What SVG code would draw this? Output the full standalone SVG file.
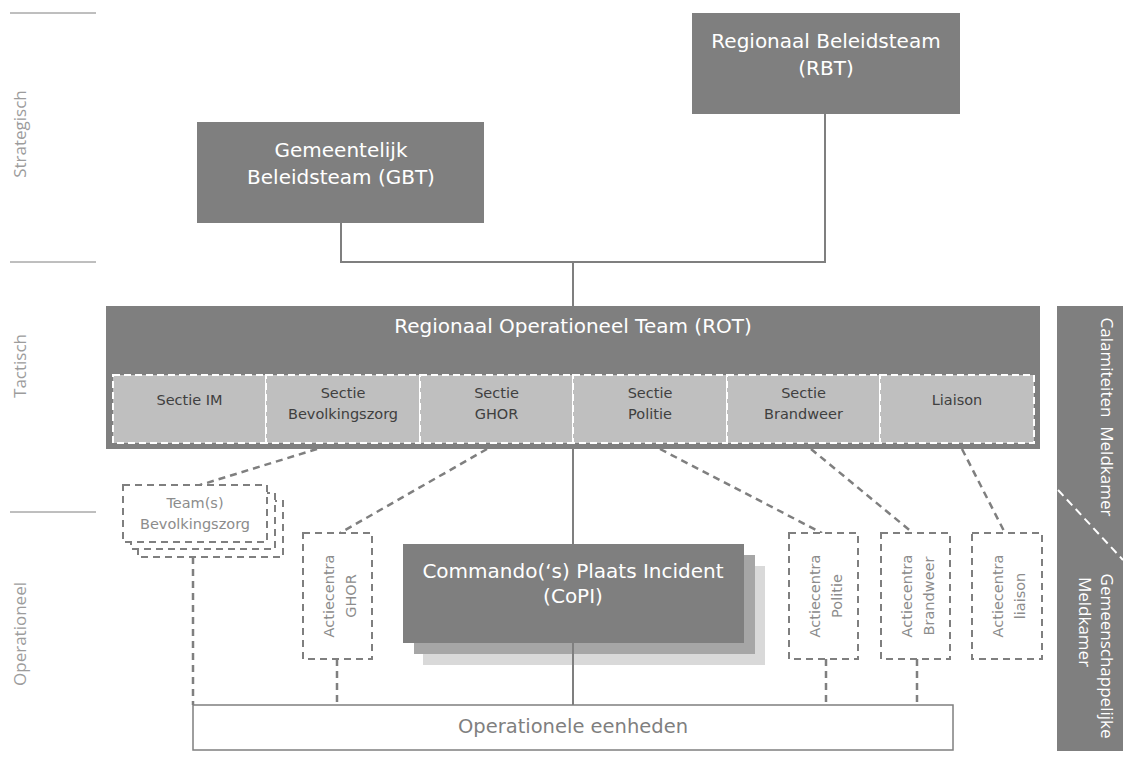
<svg xmlns="http://www.w3.org/2000/svg" width="1124" height="760" viewBox="0 0 1124 760">
<style>
.bg{fill:#ffffff}
.dark{fill:#7f7f7f}
.wt{fill:#ffffff;font-family:"DejaVu Sans",Verdana,sans-serif;font-size:20px;text-anchor:middle}
.sec{fill:#bfbfbf;stroke:#ffffff;stroke-width:2;stroke-dasharray:7 4}
.st{fill:#404040;font-family:"DejaVu Sans",Verdana,sans-serif;font-size:14.5px;text-anchor:middle}
.gt{fill:#8c8c8c;font-family:"DejaVu Sans",Verdana,sans-serif;font-size:14.5px;text-anchor:middle}
.dbox{fill:#ffffff;stroke:#7f7f7f;stroke-width:2;stroke-dasharray:7 5}
.line{stroke:#7f7f7f;stroke-width:2;fill:none}
.dash{stroke:#7f7f7f;stroke-width:2.5;fill:none;stroke-dasharray:7 5}
.lvl{fill:#9c9c9c;font-family:"Open Sans","Noto Sans",sans-serif;font-size:17px;text-anchor:middle}
.mk{fill:#ffffff;font-family:"Open Sans","Noto Sans",sans-serif;font-size:17px;text-anchor:middle;white-space:pre}
.sep{stroke:#7f7f7f;stroke-width:1}
</style>
<rect class="bg" x="0" y="0" width="1124" height="760"/>

<g id="levels">
<line class="sep" x1="10" y1="13" x2="96" y2="13"/>
<line class="sep" x1="10" y1="262" x2="96" y2="262"/>
<line class="sep" x1="10" y1="512" x2="96" y2="512"/>
<text class="lvl" transform="translate(26,134) rotate(-90)">Strategisch</text>
<text class="lvl" transform="translate(26,366) rotate(-90)">Tactisch</text>
<text class="lvl" transform="translate(26,634) rotate(-90)">Operationeel</text>
</g>

<g id="connectors">
<polyline class="line" points="341,223 341,262 825,262 825,114"/>
<line class="line" x1="573" y1="262" x2="573" y2="306"/>
<line class="line" x1="573" y1="449" x2="573" y2="705"/>
<line class="dash" x1="317" y1="449" x2="200" y2="485"/>
<line class="dash" x1="487" y1="449" x2="340" y2="533"/>
<line class="dash" x1="660" y1="449" x2="822" y2="533"/>
<line class="dash" x1="811" y1="449" x2="913" y2="533"/>
<line class="dash" x1="962" y1="449" x2="1005" y2="533"/>
<line class="dash" x1="193" y1="557" x2="193" y2="705"/>
<line class="dash" x1="337" y1="659" x2="337" y2="705"/>
<line class="dash" x1="826" y1="659" x2="826" y2="705"/>
<line class="dash" x1="917" y1="659" x2="917" y2="705"/>
</g>

<g id="rbt">
<rect class="dark" x="692" y="13" width="268" height="101"/>
<text class="wt" x="826" y="48">Regionaal Beleidsteam</text>
<text class="wt" x="826" y="75">(RBT)</text>
</g>

<g id="gbt">
<rect class="dark" x="197" y="122" width="287" height="101"/>
<text class="wt" x="341" y="157">Gemeentelijk</text>
<text class="wt" x="341" y="184">Beleidsteam (GBT)</text>
</g>

<g id="rot">
<rect class="dark" x="106" y="306" width="934" height="143"/>
<text class="wt" x="573" y="333">Regionaal Operationeel Team (ROT)</text>
</g>
<g id="sectie-im">
<rect class="sec" x="113" y="375" width="153" height="68"/>
<text class="st" x="189.5" y="405">Sectie IM</text>
</g>
<g id="sectie-bevolkingszorg">
<rect class="sec" x="266" y="375" width="154" height="68"/>
<text class="st" x="343" y="398">Sectie</text>
<text class="st" x="343" y="419">Bevolkingszorg</text>
</g>
<g id="sectie-ghor">
<rect class="sec" x="420" y="375" width="153" height="68"/>
<text class="st" x="496.5" y="398">Sectie</text>
<text class="st" x="496.5" y="419">GHOR</text>
</g>
<g id="sectie-politie">
<rect class="sec" x="573" y="375" width="154" height="68"/>
<text class="st" x="650" y="398">Sectie</text>
<text class="st" x="650" y="419">Politie</text>
</g>
<g id="sectie-brandweer">
<rect class="sec" x="727" y="375" width="153" height="68"/>
<text class="st" x="803.5" y="398">Sectie</text>
<text class="st" x="803.5" y="419">Brandweer</text>
</g>
<g id="liaison">
<rect class="sec" x="880" y="375" width="154" height="68"/>
<text class="st" x="957" y="405">Liaison</text>
</g>

<g id="teams-bevolkingszorg">
<rect class="dbox" x="138" y="501" width="145" height="56"/>
<rect class="dbox" x="131" y="493" width="144" height="56"/>
<rect class="dbox" x="123" y="485" width="144" height="57"/>
<text class="gt" x="195" y="508" font-size="15">Team(s)</text>
<text class="gt" x="195" y="529" font-size="15">Bevolkingszorg</text>
</g>

<g id="actiecentra-ghor">
<rect class="dbox" x="303" y="533" width="69" height="126"/>
<text class="gt" transform="translate(337.5,596) rotate(-90)" y="-4">Actiecentra</text>
<text class="gt" transform="translate(337.5,596) rotate(-90)" y="18">GHOR</text>
</g>
<g id="actiecentra-politie">
<rect class="dbox" x="789" y="533" width="69" height="126"/>
<text class="gt" transform="translate(823.5,596) rotate(-90)" y="-4">Actiecentra</text>
<text class="gt" transform="translate(823.5,596) rotate(-90)" y="18">Politie</text>
</g>
<g id="actiecentra-brandweer">
<rect class="dbox" x="881" y="533" width="69" height="126"/>
<text class="gt" transform="translate(915.5,596) rotate(-90)" y="-4">Actiecentra</text>
<text class="gt" transform="translate(915.5,596) rotate(-90)" y="18">Brandweer</text>
</g>
<g id="actiecentra-liaison">
<rect class="dbox" x="972" y="533" width="70" height="126"/>
<text class="gt" transform="translate(1007,596) rotate(-90)" y="-4">Actiecentra</text>
<text class="gt" transform="translate(1007,596) rotate(-90)" y="18">liaison</text>
</g>

<g id="copi">
<rect x="423" y="566" width="342" height="99" fill="#d9d9d9"/>
<rect x="414" y="555" width="341" height="99" fill="#a6a6a6"/>
<line class="line" x1="573" y1="643" x2="573" y2="665"/>
<rect class="dark" x="403" y="544" width="341" height="99"/>
<text class="wt" x="573" y="578">Commando(‘s) Plaats Incident</text>
<text class="wt" x="573" y="603">(CoPI)</text>
</g>

<g id="operationele-eenheden">
<rect x="193" y="705" width="760" height="45" fill="#ffffff" stroke="#7f7f7f" stroke-width="1.5"/>
<text x="573" y="733" fill="#7f7f7f" font-family="DejaVu Sans, Verdana, sans-serif" font-size="19.5" text-anchor="middle">Operationele eenheden</text>
</g>

<g id="meldkamer">
<rect class="dark" x="1057" y="306" width="66" height="445"/>
<line x1="1058" y1="490" x2="1123" y2="560" stroke="#ffffff" stroke-width="2" stroke-dasharray="8 5"/>
<text class="mk" transform="translate(1101,417) rotate(90)">Calamiteiten  Meldkamer</text>
<text class="mk" transform="translate(1101,656) rotate(90)">Gemeenschappelijke</text>
<text class="mk" transform="translate(1079,622) rotate(90)">Meldkamer</text>
</g>
</svg>
